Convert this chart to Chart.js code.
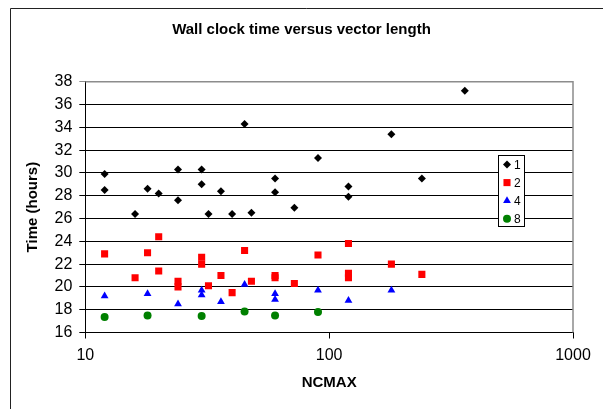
<!DOCTYPE html>
<html>
<head>
<meta charset="utf-8">
<script src="https://cdn.jsdelivr.net/npm/chart.js@4/dist/chart.umd.min.js"></script>
<style>
  html, body { margin: 0; padding: 0; background: #fff; }
  #wrap { position: relative; width: 603px; height: 409px; }
</style>
</head>
<body>
<div id="wrap"><canvas id="wallclock" width="603" height="409"></canvas></div>
<script>
// data (x = NCMAX, y = time in hours)
const ncmax1 = [12, 12, 16, 18, 20, 24, 24, 30, 30, 32, 36, 40, 45, 48, 60, 60, 72, 90, 120, 120, 180, 240, 360];
const time1 = [29.9, 28.5, 26.4, 28.6, 28.2, 30.3, 27.6, 30.3, 29.0, 26.4, 28.4, 26.4, 34.3, 26.5, 29.5, 28.3, 26.95, 31.3, 28.8, 27.9, 33.4, 29.5, 37.2];

const ncmax2 = [12, 16, 18, 20, 20, 24, 24, 30, 30, 32, 36, 40, 45, 48, 60, 60, 72, 90, 120, 120, 120, 180, 240];
const time2 = [22.9, 20.8, 23.0, 24.4, 21.4, 20.5, 20.0, 22.6, 22.0, 20.1, 21.0, 19.5, 23.2, 20.5, 21.0, 20.8, 20.3, 22.8, 23.8, 21.2, 20.8, 22.0, 21.1];

const ncmax4 = [12, 18, 24, 30, 30, 36, 45, 60, 60, 90, 120, 180];
const time4 = [19.2, 19.4, 18.5, 19.7, 19.3, 18.7, 20.2, 19.4, 18.9, 19.7, 18.8, 19.7];

const ncmax8 = [12, 18, 30, 45, 60, 90];
const time8 = [17.35, 17.5, 17.45, 17.85, 17.5, 17.8];

const seriesLabels = ['1', '2', '4', '8'];
const xTicks = [10, 100, 1000];
const yMin = 16;
const yMax = 38;
const yStep = 2;

// build {x, y} points from two arrays
const toPoints = (xs, ys) => xs.map((x, i) => ({ x: x, y: ys[i] }));

const font = (size, weight) => ({ family: '"Liberation Sans", Arial, sans-serif', size: size, weight: weight || 'normal' });

// outer frame of the excel chart object
const framePlugin = {
  id: 'frame',
  beforeDraw(chart) {
    const ctx = chart.ctx;
    ctx.save();
    ctx.fillStyle = '#fff';
    ctx.fillRect(0, 0, chart.width, chart.height);
    ctx.strokeStyle = '#222';
    ctx.lineWidth = 1;
    ctx.beginPath();
    ctx.moveTo(10.5, chart.height);
    ctx.lineTo(10.5, 8.5);
    ctx.lineTo(chart.width, 8.5);
    ctx.stroke();
    ctx.restore();
  },
  // grey border on top and right of the plot area
  afterDraw(chart) {
    const { left, right, top, bottom } = chart.chartArea;
    const ctx = chart.ctx;
    ctx.save();
    ctx.strokeStyle = '#8c8c8c';
    ctx.lineWidth = 1.5;
    ctx.beginPath();
    ctx.moveTo(left, top);
    ctx.lineTo(right, top);
    ctx.lineTo(right, bottom);
    ctx.stroke();
    ctx.restore();
  },
};

// boxed legend sitting inside the plot area
const boxLegendPlugin = {
  id: 'boxLegend',
  afterDraw(chart) {
    const ctx = chart.ctx;
    const boxX = 498.5, boxY = 155.5, boxW = 26, boxH = 71;
    ctx.save();
    ctx.fillStyle = '#fff';
    ctx.fillRect(boxX, boxY, boxW, boxH);
    ctx.strokeStyle = '#000';
    ctx.lineWidth = 1;
    ctx.strokeRect(boxX, boxY, boxW, boxH);
    ctx.font = '12px "Liberation Sans", Arial, sans-serif';
    ctx.textBaseline = 'middle';
    chart.data.datasets.forEach((ds, i) => {
      const y = 164.5 + i * 18.1;
      ctx.fillStyle = ds.backgroundColor;
      ctx.strokeStyle = ds.borderColor;
      Chart.helpers.drawPoint(ctx, { pointStyle: ds.pointStyle, radius: ds.pointRadius, borderWidth: 0 }, 507, y);
      ctx.fillStyle = '#000';
      ctx.fillText(ds.label, 514, y + 1);
    });
    ctx.restore();
  },
};

const wallClockChart = new Chart(document.getElementById('wallclock'), {
  type: 'scatter',
  data: {
    datasets: [
      { label: seriesLabels[0], data: toPoints(ncmax1, time1), pointStyle: 'rectRot', pointRadius: 4, backgroundColor: '#000000', borderColor: '#000000', borderWidth: 0 },
      { label: seriesLabels[1], data: toPoints(ncmax2, time2), pointStyle: 'rect', pointRadius: 5, backgroundColor: '#ff0000', borderColor: '#ff0000', borderWidth: 0 },
      { label: seriesLabels[2], data: toPoints(ncmax4, time4), pointStyle: 'triangle', pointRadius: 4.5, backgroundColor: '#0000ff', borderColor: '#0000ff', borderWidth: 0 },
      { label: seriesLabels[3], data: toPoints(ncmax8, time8), pointStyle: 'circle', pointRadius: 4, backgroundColor: '#008000', borderColor: '#008000', borderWidth: 0 },
    ],
  },
  options: {
    responsive: false,
    animation: false,
    events: [],
    // symmetric padding so the title centres on the whole picture
    layout: { padding: { left: 15, right: 15, top: 0, bottom: 0 } },
    plugins: {
      legend: { display: false },
      tooltip: { enabled: false },
      title: {
        display: true,
        text: 'Wall clock time versus vector length',
        color: '#000',
        font: font(15, 'bold'),
        padding: { top: 21, bottom: 42.7 },
      },
    },
    scales: {
      x: {
        type: 'logarithmic',
        min: xTicks[0],
        max: xTicks[xTicks.length - 1],
        afterBuildTicks: (scale) => { scale.ticks = xTicks.map(v => ({ value: v })); },
        afterFit: (scale) => { scale.height = 76.5; },
        ticks: {
          color: '#000',
          padding: 7,
          maxRotation: 0,
          font: font(16),
          callback: (value) => String(value),
        },
        grid: { drawOnChartArea: false, drawTicks: true, tickLength: 6, color: '#000', lineWidth: 1 },
        border: { color: '#000', width: 1 },
        title: {
          display: true,
          text: 'NCMAX',
          color: '#000',
          font: font(15, 'bold'),
          padding: { top: 0, bottom: 17 },
        },
      },
      y: {
        min: yMin,
        max: yMax,
        afterFit: (scale) => { scale.width = 70.3; },
        ticks: {
          stepSize: yStep,
          color: '#000',
          padding: 7,
          font: font(16),
        },
        grid: {
          color: (c) => (c.tick && c.tick.value === yMax ? '#8c8c8c' : '#000'),
          lineWidth: 1,
          tickLength: 6,
        },
        border: { color: '#000', width: 1 },
        title: {
          display: true,
          text: 'Time (hours)',
          color: '#000',
          font: font(15, 'bold'),
          padding: { top: 9, bottom: 0 },
        },
      },
      // empty strip on the right so the plot ends where the reference does
      spacer: {
        type: 'linear',
        position: 'right',
        display: true,
        ticks: { display: false },
        grid: { display: false },
        border: { display: false },
        afterFit: (scale) => { scale.width = 15; },
      },
    },
  },
  plugins: [framePlugin, boxLegendPlugin],
});
</script>
</body>
</html>
